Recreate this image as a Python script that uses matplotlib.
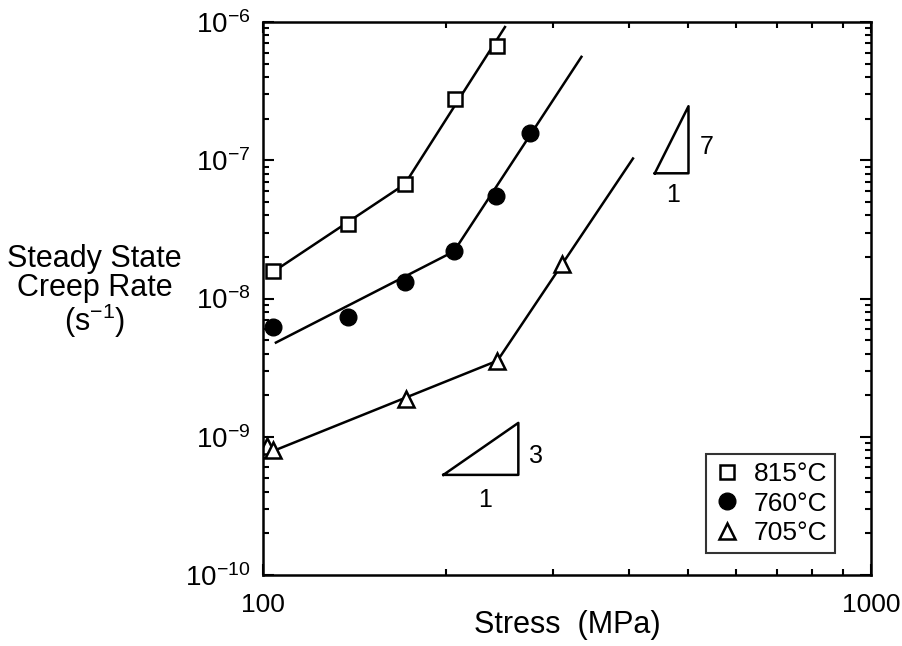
import numpy as np
import matplotlib
matplotlib.use("Agg")
import matplotlib.pyplot as plt
from matplotlib.ticker import FixedLocator, FixedFormatter, NullFormatter, LogLocator

plt.rcParams["font.family"] = ["Liberation Sans", "DejaVu Sans"]
plt.rcParams["mathtext.fontset"] = "custom"
plt.rcParams["mathtext.rm"] = "Liberation Sans"
plt.rcParams["mathtext.it"] = "Liberation Sans:italic"

# -------------------------
# Measured creep data
# -------------------------
stress_815 = [104, 138, 171, 207, 243]
rate_815 = [1.57e-8, 3.44e-8, 6.7e-8, 2.77e-7, 6.7e-7]

stress_760 = [104, 138, 171, 206, 242, 275]
rate_760 = [6.2e-9, 7.4e-9, 1.31e-8, 2.19e-8, 5.48e-8, 1.57e-7]

stress_705 = [101.5, 104, 172, 243, 310]
rate_705 = [8.6e-10, 8.0e-10, 1.88e-9, 3.55e-9, 1.79e-8]

# Fitted line segments (two regimes per temperature)
fit_815_x = [103, 171, 250]
fit_815_y = [1.52e-8, 6.7e-8, 9.2e-7]
fit_760_x = [105, 206, 334]
fit_760_y = [4.8e-9, 2.19e-8, 5.6e-7]
fit_705_x = [104, 243, 406]
fit_705_y = [7.9e-10, 3.55e-9, 1.03e-7]

# Slope triangles
tri3_x = [198, 263, 263, 198]
tri3_y = [5.3e-10, 5.3e-10, 1.26e-9, 5.3e-10]
tri7_x = [441, 501, 501, 441]
tri7_y = [8.05e-8, 8.05e-8, 2.46e-7, 8.05e-8]

x_ticks = [100, 1000]
x_tick_labels = ["100", "1000"]
y_ticks = [1e-10, 1e-9, 1e-8, 1e-7, 1e-6]
y_tick_labels = [r"$\mathregular{10^{-10}}$", r"$\mathregular{10^{-9}}$",
                 r"$\mathregular{10^{-8}}$", r"$\mathregular{10^{-7}}$",
                 r"$\mathregular{10^{-6}}$"]

# -------------------------
# Plot
# -------------------------
fig = plt.figure(figsize=(9.02, 6.46), dpi=100)
ax = fig.add_axes([0.2916, 0.1099, 0.674, 0.856])

ax.set_xscale("log")
ax.set_yscale("log")

line_kw = dict(color="black", linewidth=1.8)
ax.plot(fit_815_x, fit_815_y, **line_kw)
ax.plot(fit_760_x, fit_760_y, **line_kw)
ax.plot(fit_705_x, fit_705_y, **line_kw)

ax.plot(stress_815, rate_815, linestyle="none", marker="s", markersize=10.5,
        markerfacecolor="white", markeredgecolor="black", markeredgewidth=1.8,
        label="815°C")
ax.plot(stress_760, rate_760, linestyle="none", marker="o", markersize=12,
        markerfacecolor="black", markeredgecolor="black", label="760°C")
ax.plot(stress_705, rate_705, linestyle="none", marker="^", markersize=12,
        markerfacecolor="white", markeredgecolor="black", markeredgewidth=1.8,
        label="705°C")

# Slope triangles and their labels
ax.plot(tri3_x, tri3_y, color="black", linewidth=1.8)
ax.plot(tri7_x, tri7_y, color="black", linewidth=1.8)
ax.text(281.7, 7.3e-10, "3", fontsize=18, ha="center", va="center")
ax.text(232.1, 3.5e-10, "1", fontsize=18, ha="center", va="center")
ax.text(536.6, 1.24e-7, "7", fontsize=18, ha="center", va="center")
ax.text(473.3, 5.6e-8, "1", fontsize=18, ha="center", va="center")

ax.set_xlim(100, 1000)
ax.set_ylim(1e-10, 1e-6)

ax.xaxis.set_major_locator(FixedLocator(x_ticks))
ax.xaxis.set_major_formatter(FixedFormatter(x_tick_labels))
ax.xaxis.set_minor_locator(LogLocator(base=10, subs=np.arange(2, 10)))
ax.xaxis.set_minor_formatter(NullFormatter())
ax.yaxis.set_major_locator(FixedLocator(y_ticks))
ax.yaxis.set_major_formatter(FixedFormatter(y_tick_labels))
ax.yaxis.set_minor_locator(LogLocator(base=10, subs=np.arange(2, 10)))
ax.yaxis.set_minor_formatter(NullFormatter())

ax.tick_params(which="both", direction="in", top=True, right=True, width=1.5)
ax.tick_params(which="major", length=8)
ax.tick_params(which="minor", length=4)
ax.tick_params(axis="x", pad=13, labelsize=19)
ax.tick_params(axis="y", pad=9, labelsize=20)

for spine in ax.spines.values():
    spine.set_linewidth(1.8)

ax.set_xlabel("Stress  (MPa)", fontsize=22, labelpad=-5)
fig.text(0.105, 0.548, "Steady State\nCreep Rate\n(s$^{\\mathregular{-1}}$)",
         fontsize=22, ha="center", va="center", multialignment="center",
         linespacing=0.95)

leg = ax.legend(loc="lower right", bbox_to_anchor=(0.941, 0.040),
                borderaxespad=0, fontsize=19, frameon=True, fancybox=False,
                handletextpad=0.5, handlelength=1.0, borderpad=0.3,
                labelspacing=0.2)
leg.get_frame().set_edgecolor("black")
leg.get_frame().set_linewidth(1.5)

fig.savefig("out.png", dpi=100)
